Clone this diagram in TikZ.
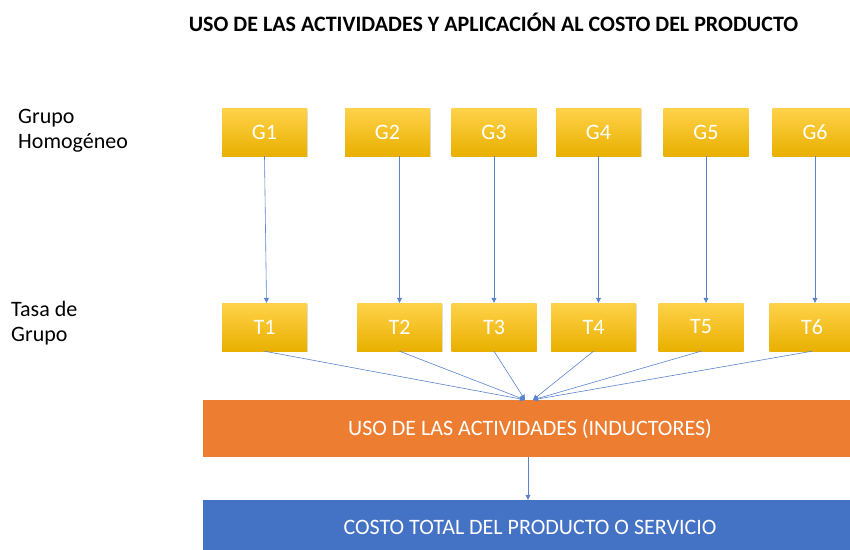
\documentclass[tikz,border=0pt]{standalone}
\usepackage{fontspec}
\setmainfont{Carlito}
\usetikzlibrary{arrows.meta,shadows,calc}
\definecolor{oro}{HTML}{FFC400}
\definecolor{orotop}{HTML}{FFD24A}
\definecolor{orobot}{HTML}{E9B000}
\definecolor{naranja}{HTML}{ED7D31}
\definecolor{azul}{HTML}{4472C4}
\definecolor{linea}{HTML}{5B84CC}
\tikzset{
  caja/.style={minimum width=85pt, minimum height=48pt, inner sep=0pt,
    top color=orotop, middle color=oro, bottom color=orobot,
    drop shadow={opacity=0.25, shadow xshift=0.8pt, shadow yshift=-1.2pt},
    text=white, font=\fontsize{22}{25}\selectfont},
  barra/.style={minimum width=654pt, inner sep=0pt, text=white,
    font=\fontsize{22}{25}\selectfont},
  etiqueta/.style={anchor=west, align=left, inner sep=0pt,
    font=\fontsize{22}{25}\selectfont},
  flecha/.style={draw=linea, line width=0.6pt, -{Triangle[width=5pt,length=5pt]}}
}
\begin{document}
\begin{tikzpicture}[x=1pt,y=-1pt]
    \useasboundingbox[fill=white] (0,0) rectangle (850,549);
    \node[font=\bfseries\fontsize{22}{25}\selectfont] (titulo) at (493.5,22)
        {USO DE LAS ACTIVIDADES Y APLICACIÓN AL COSTO DEL PRODUCTO};
    \node[etiqueta] (lg) at (18,131) {Grupo\\Homogéneo};
    \node[etiqueta] (lt) at (11,323) {Tasa de\\Grupo};
    % grupos homogeneos
    \node[caja] (G1) at (264.5,132) {G1};
    \node[caja] (G2) at (387.5,132) {G2};
    \node[caja] (G3) at (494,132) {G3};
    \node[caja] (G4) at (598.5,132) {G4};
    \node[caja] (G5) at (706,132) {G5};
    \node[caja] (G6) at (815,132) {G6};
    % tasas de grupo
    \node[caja] (T1) at (264.5,327) {T1};
    \node[caja] (T2) at (399.5,327) {T2};
    \node[caja] (T3) at (494,327) {T3};
    \node[caja] (T4) at (593.5,327) {T4};
    \node[caja] (T5) at (701,327) {T5};
    \node[caja] (T6) at (812,327) {T6};
    \node[barra, fill=naranja, minimum height=57pt] (U) at (530,428.5)
        {USO DE LAS ACTIVIDADES (INDUCTORES)};
    \node[barra, fill=azul, minimum height=54pt] (C) at (530,527)
        {COSTO TOTAL DEL PRODUCTO O SERVICIO};
    \coordinate (ui) at ($(U.north)+(-5,0)$);
    \coordinate (ud) at ($(U.north)+(3,0)$);
    % flechas
    \draw[flecha] (G1.south) -- ($(T1.north)+(2,0)$);
    \draw[flecha] (T2.north |- G2.south) -- (T2.north);
    \draw[flecha] (G3.south) -- (T3.north);
    \draw[flecha] (G4.south) -- (G4.south |- T4.north);
    \draw[flecha] (G5.south) -- (G5.south |- T5.north);
    \draw[flecha] (G6.south) -- (G6.south |- T6.north);
    \foreach \t in {T1,T2,T3}
        \draw[flecha] (\t.south) -- (ui);
    \foreach \t in {T4,T5,T6}
        \draw[flecha] (\t.south) -- (ud);
    \draw[flecha] ($(U.south)+(-2,0)$) -- ($(C.north)+(-2,0)$);
\end{tikzpicture}
\end{document}
